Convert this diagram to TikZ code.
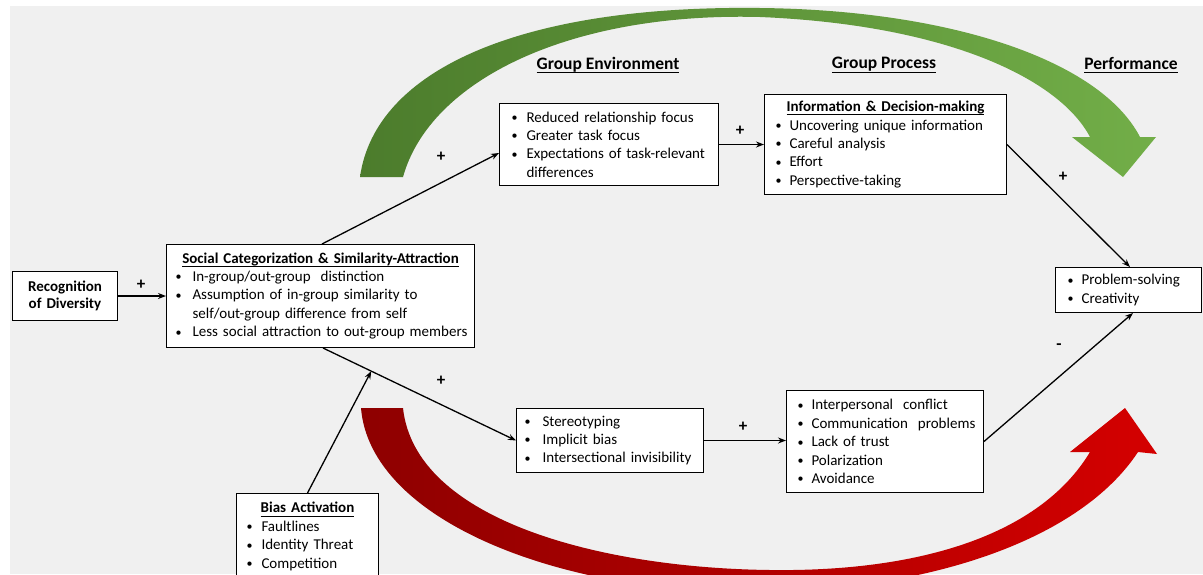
\documentclass[tikz,border=0pt]{standalone}
\usepackage{fontspec}
\setmainfont{Carlito}
\usetikzlibrary{arrows.meta,calc}
\definecolor{bg}{HTML}{F0F0F0}
\definecolor{gdark}{HTML}{4C7C2C}
\definecolor{glight}{HTML}{72AE48}
\definecolor{rdark}{HTML}{8E0000}
\definecolor{rlight}{HTML}{D40000}
\newcommand\mybul{\raisebox{0.6pt}{\scalebox{0.8}{\textbullet}}}
\newcommand\bl[2][15pt]{\mbox{\makebox[#1][l]{\mybul}#2}}
\newcommand\ind[2][15pt]{\mbox{\hspace*{#1}#2}}
\newcommand\myul[2][3.5pt]{\setbox0\hbox{#2}\rlap{\raisebox{-#1}{\rule{\wd0}{0.9pt}}}\box0}
\tikzset{
  box/.style={draw=black, line width=1pt, fill=white, anchor=north west, align=left,
    inner ysep=0pt, font=\fontsize{15}{18.4}\selectfont},
  hdr/.style={font=\fontsize{17.5}{20}\selectfont\bfseries, inner sep=0pt},
  sign/.style={font=\fontsize{17}{20}\selectfont\bfseries, inner sep=0pt},
  conn/.style={line width=1.3pt, -{Stealth[length=8pt,width=6pt]}},
}
\begin{document}
\begin{tikzpicture}[x=1pt,y=-1pt]
\useasboundingbox (0,0) rectangle (1203,574);
\begin{scope}
\clip (0,0) rectangle (1203,574);
\fill[white] (0,0) rectangle (1203,574);
\fill[bg] (10,6) rectangle (1203,574);

% green curved arrow
\shade[left color=gdark, right color=glight]
  (360,177) .. controls (375,70) and (520,5) .. (760,8)
  .. controls (950,10) and (1100,60) .. (1140,137)
  -- (1156,137) -- (1123,177) -- (1072,137) -- (1090,137)
  .. controls (1060,80) and (950,25) .. (760,17)
  .. controls (570,12) and (430,80) .. (403,177) -- cycle;

% red curved arrow
\shade[left color=rdark, right color=rlight]
  (361,408) .. controls (370,520) and (560,595) .. (760,592)
  .. controls (930,590) and (1080,540) .. (1138,452)
  -- (1157,454) -- (1125,408) -- (1070,452) -- (1090,452)
  .. controls (1040,535) and (920,572) .. (770,570)
  .. controls (600,568) and (415,520) .. (403,408) -- cycle;

% headers
\node[hdr] (h1) at (608,65) {\myul[4pt]{Group Environment}};
\node[hdr] (h2) at (884,65) {\myul[4pt]{Group Process}};
\node[hdr] (h3) at (1131,65) {\myul[4pt]{Performance}};

% boxes
\node[box, text width=85pt, inner xsep=10pt, minimum height=49pt, align=center,
  font=\fontsize{15}{17.5}\selectfont\bfseries] (re) at (12,271) {Recognition\\of Diversity};

\node[box, inner xsep=9pt, text width=290pt, minimum height=103pt] (sc) at (166,244)
 {\makebox[\hsize]{\bfseries\myul{Social Categorization \& Similarity-Attraction}}\\
  \bl[17pt]{In-group/out-group\ \ distinction}\\
  \bl[17pt]{Assumption of in-group similarity to}\\
  \ind[17pt]{self/out-group difference from self}\\
  \bl[17pt]{Less social attraction to out-group members}};

\node[box, inner xsep=12pt, text width=195pt, minimum height=82pt] (ge) at (499,103)
 {\bl{Reduced relationship focus}\\
  \bl{Greater task focus}\\
  \bl{Expectations of task-relevant}\\
  \ind{differences}};

\node[box, inner xsep=11pt, text width=220pt, minimum height=100pt] (id) at (764,94)
 {\makebox[\hsize]{\bfseries\myul{Information \& Decision-making}}\\
  \bl[14pt]{Uncovering unique information}\\
  \bl[14pt]{Careful analysis}\\
  \bl[14pt]{Effort}\\
  \bl[14pt]{Perspective-taking}};

\node[box, inner xsep=12pt, text width=122pt, minimum height=45pt] (ps) at (1055,267)
 {\bl[14pt]{Problem-solving}\\
  \bl[14pt]{Creativity}};

\node[box, inner xsep=8pt, text width=171pt, minimum height=64pt] (st) at (516,408)
 {\bl[18pt]{Stereotyping}\\
  \bl[18pt]{Implicit bias}\\
  \bl[18pt]{Intersectional invisibility}};

\node[box, inner xsep=11pt, text width=175pt, minimum height=102pt] (ip) at (786,390)
 {\bl[14pt]{Interpersonal\ \ conflict}\\
  \bl[14pt]{Communication\ \ problems}\\
  \bl[14pt]{Lack of trust}\\
  \bl[14pt]{Polarization}\\
  \bl[14pt]{Avoidance}};

\node[box, inner xsep=10pt, text width=122pt, minimum height=86pt] (ba) at (236,493)
 {\makebox[\hsize]{\bfseries\myul{Bias Activation}}\\
  \bl{Faultlines}\\
  \bl{Identity Threat}\\
  \bl{Competition}};

% connectors
\coordinate (sctop) at ($(sc.north west)+(156,0)$);
\coordinate (scbot) at ($(sc.south west)+(157,0)$);
\coordinate (mod) at ($(scbot)!0.25!(st.west)$);
\draw[conn] (re.east) -- (re.east -| sc.west);
\draw[conn] (sctop) -- ($(ge.north west)+(0,50)$);
\draw[conn] (ge.east) -- (ge.east -| id.west);
\draw[conn] (id.east) -- ($(ps.north west)+(75,0)$);
\draw[conn] (scbot) -- (st.west);
\draw[conn] (ba.north) -- (mod);
\draw[conn] (st.east) -- (st.east -| ip.west);
\draw[conn] (ip.east) -- ($(ps.south west)+(78,0)$);

% signs
\node[sign] (s1) at (141,285) {+};
\node[sign] (s2) at (441,157) {+};
\node[sign] (s3) at (740,131) {+};
\node[sign] (s4) at (1063,177) {+};
\node[sign] (s5) at (441,381) {+};
\node[sign] (s6) at (743,427) {+};
\node[sign] (s7) at (1059,347) {-};
\end{scope}
\end{tikzpicture}
\end{document}
